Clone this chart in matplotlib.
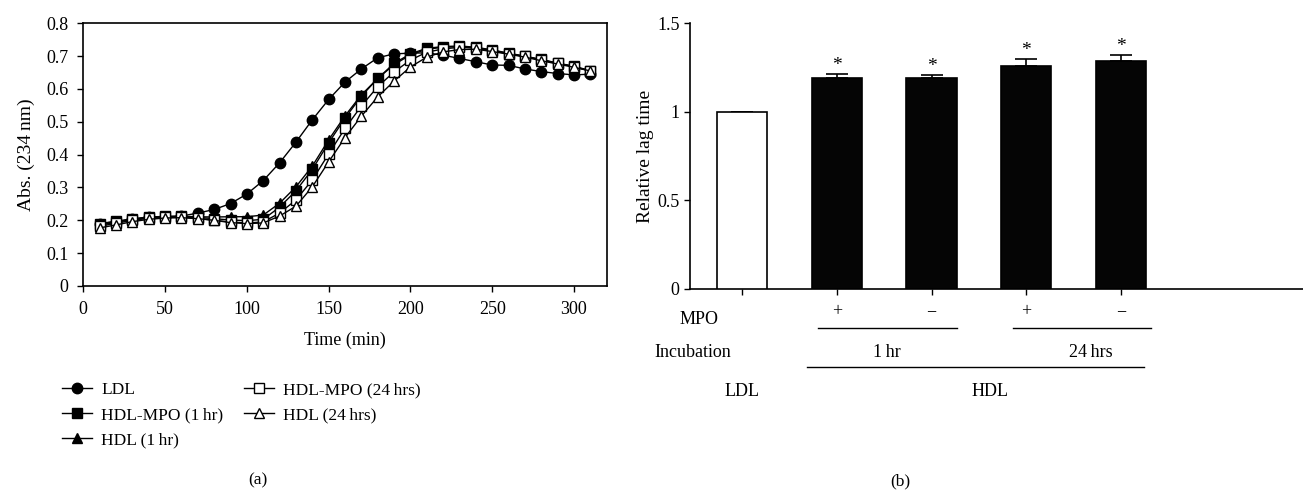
import matplotlib.pyplot as plt
import matplotlib.transforms as mtransforms
from matplotlib.ticker import FuncFormatter

plt.rcParams['font.family'] = ['Liberation Serif', 'DejaVu Serif']
plt.rcParams['font.size'] = 13

# (a) absorbance time course
time_min = [10, 20, 30, 40, 50, 60, 70, 80, 90, 100, 110, 120, 130, 140, 150, 160,
            170, 180, 190, 200, 210, 220, 230, 240, 250, 260, 270, 280, 290, 300, 310]
ldl = [0.190, 0.196, 0.203, 0.209, 0.211, 0.213, 0.222, 0.233, 0.251, 0.280, 0.321,
       0.375, 0.438, 0.506, 0.568, 0.621, 0.661, 0.695, 0.707, 0.709, 0.710, 0.703,
       0.693, 0.683, 0.673, 0.672, 0.661, 0.653, 0.647, 0.643, 0.645]
hdl_mpo_1h = [0.190, 0.197, 0.205, 0.210, 0.212, 0.212, 0.209, 0.205, 0.201, 0.199, 0.203,
              0.240, 0.290, 0.355, 0.436, 0.511, 0.578, 0.632, 0.678, 0.707, 0.724, 0.729,
              0.731, 0.727, 0.719, 0.709, 0.700, 0.690, 0.679, 0.669, 0.656]
hdl_1h = [0.186, 0.194, 0.203, 0.208, 0.211, 0.212, 0.211, 0.210, 0.211, 0.211, 0.216,
          0.252, 0.302, 0.365, 0.445, 0.518, 0.582, 0.632, 0.674, 0.704, 0.721, 0.727,
          0.729, 0.726, 0.718, 0.708, 0.699, 0.689, 0.678, 0.668, 0.655]
hdl_mpo_24h = [0.182, 0.191, 0.200, 0.206, 0.209, 0.210, 0.206, 0.200, 0.195, 0.192, 0.195,
               0.222, 0.262, 0.323, 0.402, 0.480, 0.548, 0.607, 0.652, 0.688, 0.712, 0.722,
               0.727, 0.724, 0.716, 0.707, 0.699, 0.688, 0.678, 0.668, 0.654]
hdl_24h = [0.177, 0.186, 0.196, 0.203, 0.207, 0.208, 0.205, 0.200, 0.193, 0.190, 0.192,
           0.213, 0.243, 0.302, 0.378, 0.452, 0.517, 0.576, 0.624, 0.667, 0.697, 0.713,
           0.720, 0.721, 0.714, 0.706, 0.697, 0.686, 0.676, 0.666, 0.655]
series_labels = ['LDL', 'HDL-MPO (1\u2009hr)', 'HDL (1\u2009hr)', 'HDL-MPO (24\u2009hrs)', 'HDL (24\u2009hrs)']

# (b) relative lag time
bar_pos = [0, 1, 2, 3, 4]
lag_mean = [1.0, 1.192, 1.19, 1.26, 1.286]
lag_err = [0.0, 0.023, 0.017, 0.038, 0.035]
mpo_signs = ['', '+', '\u2212', '+', '\u2212']
significant = [False, True, True, True, True]

W, H = 1303, 491
fig = plt.figure(figsize=(W / 100, H / 100), dpi=100)

def frac(x0, y0, x1, y1):
    return [x0 / W, 1 - y1 / H, (x1 - x0) / W, (y1 - y0) / H]

fmt = FuncFormatter(lambda v, p: '%g' % round(v, 2))

# ---- panel (a)
ax1 = fig.add_axes(frac(83.3, 23.3, 606.7, 286))
styles = [
    dict(marker='o', mfc='black', ms=7.5),
    dict(marker='s', mfc='black', ms=6.5),
    dict(marker='^', mfc='black', ms=7),
    dict(marker='s', mfc='white', ms=6.5),
    dict(marker='^', mfc='white', ms=7),
]
for ys, lab, st in zip([ldl, hdl_mpo_1h, hdl_1h, hdl_mpo_24h, hdl_24h], series_labels, styles):
    ax1.plot(time_min, ys, color='black', lw=1.0, mec='black', mew=1.0, label=lab, **st)

ax1.set_xlim(0, 320)
ax1.set_ylim(0, 0.8)
ax1.set_xticks([0, 50, 100, 150, 200, 250, 300])
ax1.set_yticks([0, 0.1, 0.2, 0.3, 0.4, 0.5, 0.6, 0.7, 0.8])
ax1.yaxis.set_major_formatter(fmt)
ax1.tick_params(direction='out', length=4.5, width=1.0, pad=6, labelsize=13)
for s in ax1.spines.values():
    s.set_linewidth(1.2)
ax1.set_xlabel('Time (min)', labelpad=10, fontsize=13)
ax1.set_ylabel('Abs. (234\u2009nm)', labelpad=8, fontsize=14)

ax1.legend(loc='upper left', bbox_to_anchor=(50 / W, 1 - 370 / H), bbox_transform=fig.transFigure,
           ncol=2, frameon=False, handlelength=1.7, handletextpad=0.55, columnspacing=1.2,
           labelspacing=0.5, borderpad=0.2, fontsize=12.5)
fig.text(258 / W, 1 - 480 / H, '(a)', ha='center', va='center', fontsize=12.5)

# ---- panel (b)
ax2 = fig.add_axes(frac(690, 23.3, 1303, 288.7))
colors = ['white', '#050505', '#050505', '#050505', '#050505']
ax2.bar(bar_pos, lag_mean, width=0.53, color=colors, edgecolor='black', linewidth=1.2, zorder=3)
ax2.errorbar(bar_pos, lag_mean, yerr=[[0] * 5, lag_err], fmt='none', ecolor='black',
             elinewidth=1.2, capsize=8, capthick=1.2, zorder=2)
for x, m, e, sig in zip(bar_pos, lag_mean, lag_err, significant):
    if sig:
        ax2.text(x, m + e - 0.002, '*', ha='center', va='bottom', fontsize=14)

ax2.set_xlim(-0.55, 5.92)
ax2.set_ylim(0, 1.5)
ax2.set_yticks([0, 0.5, 1, 1.5])
ax2.yaxis.set_major_formatter(fmt)
ax2.set_xticks(bar_pos)
ax2.set_xticklabels([])
ax2.spines['top'].set_visible(False)
ax2.spines['right'].set_visible(False)
for s in ['left', 'bottom']:
    ax2.spines[s].set_linewidth(1.2)
ax2.tick_params(direction='out', length=4.5, width=1.0, pad=3, labelsize=13)
ax2.set_ylabel('Relative lag time', labelpad=2, fontsize=14)

trans = mtransforms.blended_transform_factory(ax2.transData, fig.transFigure)
for x, sgn in zip(bar_pos, mpo_signs):
    if sgn:
        ax2.text(x, 1 - 312 / H, sgn, transform=trans, ha='center', va='center',
                 fontsize=13, clip_on=False)
fig.text(699 / W, 1 - 319 / H, 'MPO', ha='center', va='center')
ax2.plot([0.80, 2.27], [1 - 327.7 / H] * 2, transform=trans, color='black', lw=1.0, clip_on=False)
ax2.plot([2.86, 4.32], [1 - 327.7 / H] * 2, transform=trans, color='black', lw=1.0, clip_on=False)

fig.text(693 / W, 1 - 352.5 / H, 'Incubation', ha='center', va='center')
ax2.text(1.53, 1 - 352.5 / H, '1\u2009hr', transform=trans, ha='center', va='center', clip_on=False)
ax2.text(3.68, 1 - 352.5 / H, '24\u2009hrs', transform=trans, ha='center', va='center', clip_on=False)
ax2.plot([0.68, 4.24], [1 - 367.3 / H] * 2, transform=trans, color='black', lw=1.0, clip_on=False)

ax2.text(0, 1 - 391.7 / H, 'LDL', transform=trans, ha='center', va='center', clip_on=False)
ax2.text(2.62, 1 - 391.7 / H, 'HDL', transform=trans, ha='center', va='center', clip_on=False)
fig.text(900 / W, 1 - 481.7 / H, '(b)', ha='center', va='center', fontsize=12.5)

fig.savefig('out.png', dpi=100)
